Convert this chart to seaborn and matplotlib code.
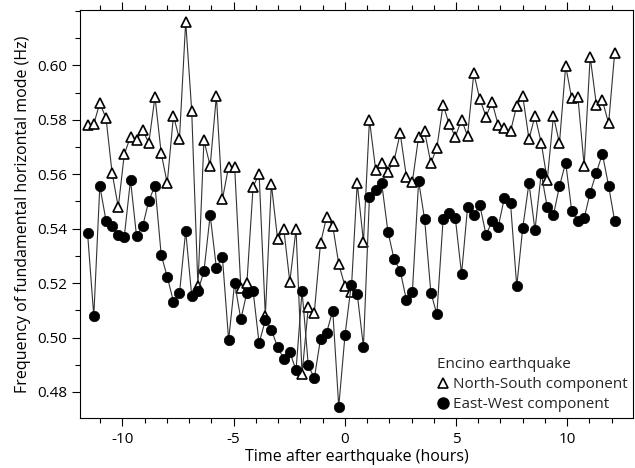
import numpy as np
import pandas as pd
import matplotlib
matplotlib.use("Agg")
import matplotlib.pyplot as plt
from matplotlib.lines import Line2D
from matplotlib.ticker import MultipleLocator, FixedLocator, FormatStrFormatter
import seaborn as sns

time_h = [-11.56, -11.28, -11.01, -10.73, -10.46, -10.18, -9.91, -9.63, -9.36, -9.08,
          -8.81, -8.53, -8.25, -7.98, -7.70, -7.43, -7.15, -6.88, -6.60, -6.33,
          -6.05, -5.77, -5.50, -5.22, -4.95, -4.67, -4.40, -4.12, -3.85, -3.57,
          -3.30, -3.02, -2.74, -2.47, -2.19, -1.92, -1.64, -1.37, -1.09, -0.82,
          -0.54, -0.27, 0.01, 0.29, 0.56, 0.84, 1.11, 1.39, 1.66, 1.94,
          2.22, 2.49, 2.77, 3.04, 3.32, 3.59, 3.87, 4.14, 4.42, 4.69,
          4.97, 5.25, 5.52, 5.80, 6.07, 6.35, 6.62, 6.90, 7.17, 7.45,
          7.73, 8.00, 8.28, 8.55, 8.83, 9.10, 9.38, 9.65, 9.93, 10.20,
          10.48, 10.76, 11.03, 11.31, 11.58, 11.86, 12.13]

north_south = [0.5781, 0.5785, 0.5861, 0.5806, 0.5606, 0.5479, 0.5673, 0.5738, 0.5726, 0.5763,
               0.5714, 0.5885, 0.5677, 0.5567, 0.5815, 0.5729, 0.6161, 0.5834, 0.5189, 0.5724,
               0.5631, 0.5888, 0.5508, 0.5628, 0.5628, 0.5181, 0.5199, 0.5554, 0.5601, 0.5080,
               0.5564, 0.5362, 0.5398, 0.5205, 0.5398, 0.4866, 0.5111, 0.5091, 0.5346, 0.5442,
               0.5410, 0.5270, 0.5189, 0.5168, 0.5568, 0.5352, 0.5800, 0.5616, 0.5640, 0.5610,
               0.5650, 0.5751, 0.5591, 0.5573, 0.5738, 0.5757, 0.5640, 0.5698, 0.5855, 0.5785,
               0.5738, 0.5800, 0.5741, 0.5971, 0.5876, 0.5812, 0.5865, 0.5780, 0.5770, 0.5757,
               0.5852, 0.5888, 0.5729, 0.5814, 0.5716, 0.5579, 0.5814, 0.5714, 0.5998, 0.5879,
               0.5883, 0.5631, 0.6032, 0.5855, 0.5871, 0.5787, 0.6045]

east_west = [0.5383, 0.5079, 0.5557, 0.5429, 0.5410, 0.5377, 0.5371, 0.5579, 0.5373, 0.5410,
             0.5502, 0.5558, 0.5303, 0.5224, 0.5132, 0.5162, 0.5392, 0.5154, 0.5171, 0.5243,
             0.5450, 0.5256, 0.5296, 0.4991, 0.5200, 0.5067, 0.5165, 0.5171, 0.4979, 0.5064,
             0.5029, 0.4965, 0.4922, 0.4947, 0.4880, 0.5172, 0.4899, 0.4850, 0.4995, 0.5017,
             0.5099, 0.4746, 0.5008, 0.5193, 0.5161, 0.4966, 0.5518, 0.5542, 0.5567, 0.5389,
             0.5287, 0.5246, 0.5138, 0.5169, 0.5575, 0.5434, 0.5165, 0.5086, 0.5434, 0.5457,
             0.5438, 0.5233, 0.5479, 0.5450, 0.5487, 0.5377, 0.5427, 0.5407, 0.5512, 0.5494,
             0.5188, 0.5403, 0.5567, 0.5395, 0.5604, 0.5479, 0.5450, 0.5556, 0.5643, 0.5466,
             0.5429, 0.5438, 0.5532, 0.5606, 0.5675, 0.5557, 0.5429]

y_tick_labels = [0.48, 0.50, 0.52, 0.54, 0.56, 0.58, 0.60]
x_tick_labels = [-10, -5, 0, 5, 10]
labels = ["North-South component", "East-West component"]
legend_title = "Encino earthquake"
x_label = "Time after earthquake (hours)"
y_label = "Frequency of fundamental horizontal mode (Hz)"

df_ns = pd.DataFrame({"time": time_h, "freq": north_south})
df_ew = pd.DataFrame({"time": time_h, "freq": east_west})

sns.set_theme(style="ticks")
plt.rcParams["font.family"] = ["Open Sans", "DejaVu Sans"]
plt.rcParams["axes.unicode_minus"] = False

fig = plt.figure(figsize=(6.35, 4.68), dpi=100)
ax = fig.add_axes([0.126, 0.106, 0.871, 0.873])

sns.lineplot(data=df_ns, x="time", y="freq", ax=ax, color="#333333", linewidth=0.8,
             marker="^", markersize=7, markerfacecolor="white", markeredgecolor="black",
             markeredgewidth=1.2, sort=False)
sns.lineplot(data=df_ew, x="time", y="freq", ax=ax, color="#333333", linewidth=0.8,
             marker="o", markersize=7.5, markerfacecolor="black", markeredgecolor="black",
             markeredgewidth=0.5, sort=False)

ax.set_xlim(-11.9, 12.96)
ax.set_ylim(0.4703, 0.6204)
ax.xaxis.set_major_locator(FixedLocator(x_tick_labels))
ax.xaxis.set_minor_locator(MultipleLocator(1))
ax.yaxis.set_major_locator(FixedLocator(y_tick_labels))
ax.yaxis.set_minor_locator(MultipleLocator(0.01))
ax.yaxis.set_major_formatter(FormatStrFormatter("%.2f"))
ax.xaxis.set_major_formatter(FormatStrFormatter("%d"))

ax.tick_params(axis="both", which="both", direction="out", color="black",
               labelsize=11, labelcolor="black", width=0.8)
ax.tick_params(axis="both", which="major", length=6)
ax.tick_params(axis="both", which="minor", length=3.5)
ax.tick_params(axis="x", which="both", top=True)
for s in ax.spines.values():
    s.set_visible(True)
    s.set_color("black")
    s.set_linewidth(0.8)

ax.set_xlabel(x_label, fontsize=11.5, color="black", labelpad=2)
ax.set_ylabel(y_label, fontsize=11.5, color="black", labelpad=4)

handles = [Line2D([], [], linestyle="none", marker="^", markersize=7, markerfacecolor="white",
                  markeredgecolor="black", markeredgewidth=1.2),
           Line2D([], [], linestyle="none", marker="o", markersize=8, markerfacecolor="black",
                  markeredgecolor="black")]
leg = ax.legend(handles, labels, title=legend_title, loc="lower left",
                bbox_to_anchor=(0.635, 0.0), frameon=False, fontsize=11,
                title_fontsize=11, handlelength=0.8, handletextpad=0.2,
                labelspacing=0.35, borderpad=0.2, borderaxespad=0.2)
leg._legend_box.align = "left"

fig.savefig("out.png", dpi=100, facecolor="white")
